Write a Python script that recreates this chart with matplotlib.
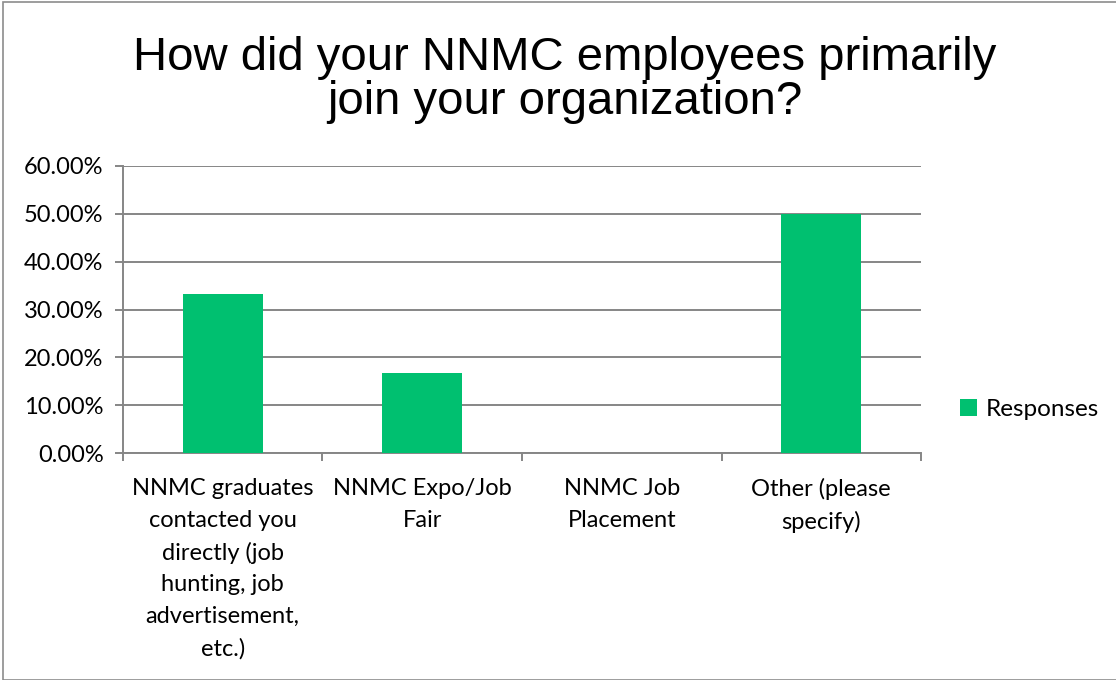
import numpy as np
import matplotlib.pyplot as plt
from matplotlib.patches import Rectangle

# chart data
categories = [
    "NNMC graduates\ncontacted you\ndirectly (job\nhunting, job\nadvertisement,\netc.)",
    "NNMC Expo/Job\nFair",
    "NNMC Job\nPlacement",
    "Other (please\nspecify)",
]
responses = [0.3333, 0.1667, 0.0, 0.50]
yticks = [0.0, 0.1, 0.2, 0.3, 0.4, 0.5, 0.6]

bar_color = "#00C070"
grid_color = "#868686"
label_font = "Lato"

fig = plt.figure(figsize=(11.16, 6.8), dpi=100)
fig.patches.append(Rectangle((0.0025, 0.0), 1.2, 0.9965, transform=fig.transFigure,
                             fill=False, edgecolor="#8c8c8c", linewidth=1.2))

ax = fig.add_axes([0.1102, 0.3338, 0.7151, 0.4221])
x = np.arange(len(categories))
ax.bar(x, responses, width=0.4, color=bar_color, zorder=3, label="Responses")

ax.set_xlim(-0.5, len(categories) - 0.5)
ax.set_ylim(0, 0.6)
ax.set_yticks(yticks)
ax.set_yticklabels([f"{v * 100:.2f}%" for v in yticks], fontsize=17, family=label_font)
ax.yaxis.grid(True, color=grid_color, linewidth=1.4, zorder=0)

ax.set_xticks(x)
ax.set_xticklabels(categories, fontsize=17, family=label_font, linespacing=1.62, va="top")
ax.set_xticks(np.arange(-0.5, len(categories)), minor=True)
ax.tick_params(axis="x", which="major", length=0, pad=18)
ax.tick_params(axis="x", which="minor", length=6, width=1.4, color=grid_color, direction="out")
ax.tick_params(axis="y", length=6, width=1.4, color=grid_color, pad=8)

for side in ["top", "right"]:
    ax.spines[side].set_visible(False)
for side in ["left", "bottom"]:
    ax.spines[side].set_color(grid_color)
    ax.spines[side].set_linewidth(1.4)

fig.text(0.506, 0.882, "How did your NNMC employees primarily\njoin your organization?",
         ha="center", va="center", fontsize=34, family="Liberation Sans", linespacing=1.0)

leg = ax.legend(loc="center left", bbox_to_anchor=(1.022, 0.15), frameon=False,
                prop={"family": label_font, "size": 17.5}, handlelength=0.7,
                handleheight=0.7, handletextpad=0.35)

fig.savefig("out.png", dpi=100)
